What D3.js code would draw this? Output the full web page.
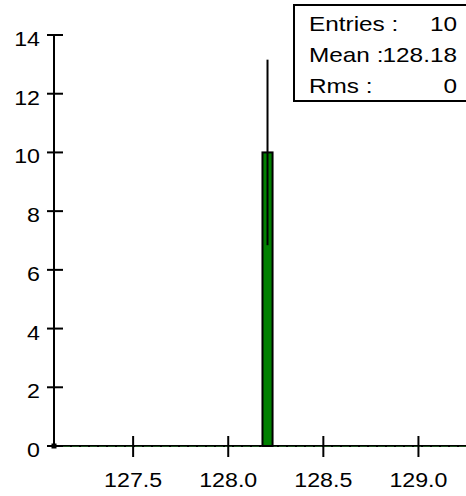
<!DOCTYPE html>
<html>
<head>
<meta charset="utf-8">
<script src="https://cdn.jsdelivr.net/npm/d3@7"></script>
<style>
  html, body { margin: 0; padding: 0; background: #fff; }
  svg { display: block; }
  text { font-family: "Liberation Sans", Arial, Helvetica, sans-serif; fill: #000; }
</style>
</head>
<body>
<script>
// ---- data ----
const xDomain = [127.084, 129.25];
const yDomain = [0, 14];
const xTicks = [127.5, 128.0, 128.5, 129.0];
const yTicks = [0, 2, 4, 6, 8, 10, 12, 14];
const binLow = [128.18];
const binHigh = [128.233];
const binCounts = [10];
const binErrors = [3.16];
const statLabels = ["Entries :", "Mean :", "Rms :"];
const statValues = ["10", "128.18", "0"];

// ---- layout ----
const W = 466, H = 496;
const mLeft = 54, mRight = 466, mTop = 35, mBottom = 446;
const fontSize = 20, sx = 1.16;

const svg = d3.select("body").append("svg").attr("width", W).attr("height", H);

const x = d3.scaleLinear().domain(xDomain).range([mLeft, mRight]);
const y = d3.scaleLinear().domain(yDomain).range([mBottom, mTop]);

// zero-content line along the baseline (empty bins)
svg.append("line")
  .attr("x1", x(xDomain[0])).attr("x2", x(xDomain[1]))
  .attr("y1", y(0)).attr("y2", y(0))
  .attr("stroke", "#000").attr("stroke-width", 2);
svg.append("line")
  .attr("x1", x(xDomain[0])).attr("x2", x(xDomain[1]))
  .attr("y1", y(0) + 0.5).attr("y2", y(0) + 0.5)
  .attr("stroke", "#1e4d1e").attr("stroke-width", 1)
  .attr("stroke-dasharray", "7,2");

// bars
const bins = binCounts.map((c, i) => ({ lo: binLow[i], hi: binHigh[i], c, e: binErrors[i] }));
svg.selectAll("rect.bar").data(bins).join("rect")
  .attr("class", "bar")
  .attr("x", d => x(d.lo)).attr("width", d => x(d.hi) - x(d.lo))
  .attr("y", d => y(d.c)).attr("height", d => y(0) - y(d.c))
  .attr("fill", "#008000").attr("stroke", "#000").attr("stroke-width", 2);

// error bars
svg.selectAll("line.err").data(bins).join("line")
  .attr("class", "err")
  .attr("x1", d => (x(d.lo) + x(d.hi)) / 2).attr("x2", d => (x(d.lo) + x(d.hi)) / 2)
  .attr("y1", d => y(d.c + d.e)).attr("y2", d => y(d.c - d.e))
  .attr("stroke", "#000").attr("stroke-width", 2);

// y axis
svg.append("line").attr("x1", mLeft).attr("x2", mLeft).attr("y1", y(yDomain[1])).attr("y2", y(0))
  .attr("stroke", "#000").attr("stroke-width", 2);
svg.selectAll("line.ytick").data(yTicks).join("line")
  .attr("class", "ytick")
  .attr("x1", mLeft - 7).attr("x2", mLeft + 9)
  .attr("y1", d => y(d)).attr("y2", d => y(d))
  .attr("stroke", "#000").attr("stroke-width", 2);
svg.selectAll("text.ylab").data(yTicks).join("text")
  .attr("class", "ylab")
  .attr("transform", d => `translate(40,${y(d) + 11}) scale(${sx},1)`)
  .attr("text-anchor", "end").attr("font-size", fontSize)
  .text(d3.format("d"));

// x axis ticks
svg.selectAll("line.xtick").data(xTicks).join("line")
  .attr("class", "xtick")
  .attr("x1", d => x(d)).attr("x2", d => x(d))
  .attr("y1", y(0) - 10).attr("y2", y(0) + 11)
  .attr("stroke", "#000").attr("stroke-width", 2);
svg.selectAll("text.xlab").data(xTicks).join("text")
  .attr("class", "xlab")
  .attr("transform", d => `translate(${x(d)},487) scale(${sx},1)`)
  .attr("text-anchor", "middle").attr("font-size", fontSize)
  .text(d3.format(".1f"));

// origin marker
svg.append("rect").attr("x", mLeft - 2.5).attr("y", y(0) - 2.5).attr("width", 5).attr("height", 5).attr("fill", "#000");

// stats box
svg.append("rect").attr("x", 294).attr("y", 5).attr("width", 180).attr("height", 96)
  .attr("fill", "#fff").attr("stroke", "#000").attr("stroke-width", 2);
svg.selectAll("text.slab").data(statLabels).join("text")
  .attr("class", "slab")
  .attr("transform", (d, i) => `translate(309,${31 + i * 31}) scale(${sx},1)`)
  .attr("font-size", 21).text(d => d);
svg.selectAll("text.sval").data(statValues).join("text")
  .attr("class", "sval")
  .attr("transform", (d, i) => `translate(457,${31 + i * 31}) scale(${sx},1)`)
  .attr("text-anchor", "end").attr("font-size", 21).text(d => d);
</script>
</body>
</html>
